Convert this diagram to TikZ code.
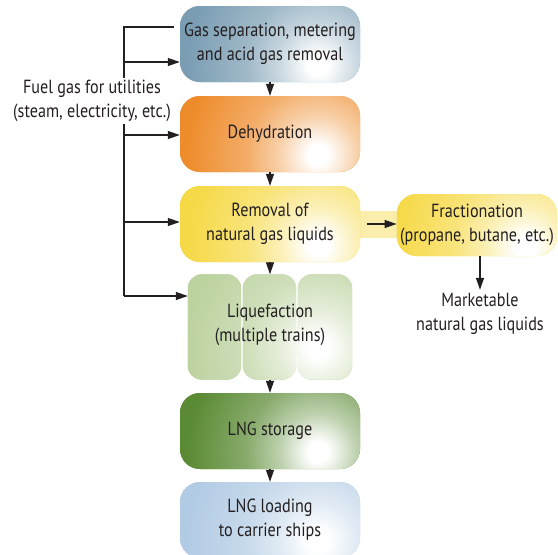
\documentclass[tikz,border=0pt]{standalone}
\usepackage{fontspec}
\setmainfont{PT Sans}[FakeStretch=0.85]
\usetikzlibrary{arrows.meta,positioning,backgrounds}

\definecolor{sepblue}{HTML}{7A9DB3}
\definecolor{dehydorange}{HTML}{EE8C2C}
\definecolor{nglyellow}{HTML}{F6D947}
\definecolor{trainsgreen}{HTML}{BCD29F}
\definecolor{storagegreen}{HTML}{5A8A33}
\definecolor{loadblue}{HTML}{B2CBE4}
\definecolor{textgray}{HTML}{231F20}
\colorlet{stagecolor}{white}

\pgfdeclareradialshading[stagecolor]{glowdisc}{\pgfpointorigin}{color(0bp)=(white); color(1.7bp)=(white); color(6.5bp)=(stagecolor!40!white); color(12bp)=(stagecolor!72!white); color(22bp)=(stagecolor); color(50bp)=(stagecolor)}

\begin{document}
\begin{tikzpicture}[x=1pt,y=-1pt]
	\tikzstyle{stage}=[fill=#1,/utils/exec={\colorlet{stagecolor}{#1}},
		path picture={\shade[shading=glowdisc] ([xshift=48pt,yshift=-21pt]path picture bounding box.center) circle (150pt);},
		rounded corners=20pt,minimum width=180pt,minimum height=76pt,align=center,text=textgray,font=\fontsize{19}{24}\selectfont]
	\tikzstyle{train}=[minimum width=54pt,minimum height=105pt,inner sep=0pt]
	\tikzstyle{note}=[align=center,text=textgray,font=\fontsize{19}{24}\selectfont]
	\tikzstyle{flow}=[line width=1.2pt,textgray,-{Triangle[length=12pt,width=8pt]}]
	\tikzstyle{feedline}=[line width=1.2pt,textgray]

	\useasboundingbox (0,0) rectangle (558,555);

	% process steps
	\node[stage=sepblue] (separation) at (270,44) {Gas separation, metering\\and acid gas removal};
	\node[stage=dehydorange] (dehydration) at (270,134) {Dehydration};
	\node[stage=nglyellow] (removal) at (270,224) {Removal of\\natural gas liquids};
	\node[stage=nglyellow,minimum width=160pt,minimum height=62pt] (fractionation) at (477,225) {Fractionation\\(propane, butane, etc.)};
	\node[note] (marketable) at (480,314) {Marketable\\natural gas liquids};

	% liquefaction trains
	\node[train] (train1) at (215,327) {};
	\node[train] (train2) at (270,327) {};
	\node[train] (train3) at (325,327) {};
	\path[stage=trainsgreen,rounded corners=14pt] (train1.north west) rectangle ([xshift=-1pt]train1.south east)
		(train2.north west) rectangle ([xshift=-1pt]train2.south east)
		(train3.north west) rectangle (train3.south east);
	\node[note] (liquefaction) at (270,325) {Liquefaction\\(multiple trains)};

	\node[stage=storagegreen] (storage) at (270,431) {LNG storage};
	\node[stage=loadblue] (loading) at (270,520) {LNG loading\\to carrier ships};

	\begin{scope}[on background layer]
		\fill[nglyellow!45!white] ([yshift=-14pt]removal.east) rectangle ([yshift=14pt,xshift=4pt]fractionation.west);
	\end{scope}

	% main flow
	\draw[flow] (separation) -- (dehydration);
	\draw[flow] (dehydration) -- (removal);
	\draw[flow] (removal) -- (train2);
	\draw[flow] (train2) -- (storage);
	\draw[flow] (storage) -- (loading);
	\draw[flow] ([xshift=7pt]removal.east) -- (fractionation.west |- removal.east);
	\draw[flow] (fractionation.south -| marketable) -- (marketable);

	% fuel gas
	\coordinate (fueltap) at (174,27);
	\coordinate (fueltop) at (124,27);
	\coordinate (fuelend) at (124,296);
	\draw[feedline] (fueltap) -- (fueltop) -- (fuelend);
	\foreach \target/\y in {separation/62,dehydration/135,removal/222,train1/296}
	{
		\coordinate (tap-\target) at (124,\y);
		\draw[flow] (tap-\target) -- (\target.west |- tap-\target);
	}
	\node[note,fill=white,inner sep=2pt] (fuel) at (92,101) {Fuel gas for utilities\\(steam, electricity, etc.)};
\end{tikzpicture}
\end{document}
